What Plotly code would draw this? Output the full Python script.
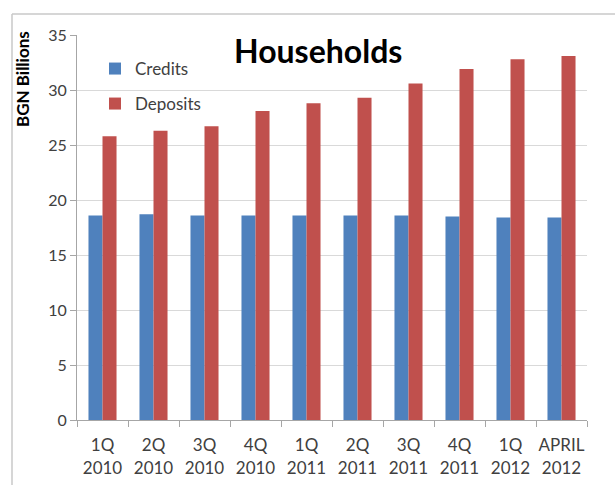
import plotly.graph_objects as go

categories = ["1Q<br>2010", "2Q<br>2010", "3Q<br>2010", "4Q<br>2010", "1Q<br>2011",
              "2Q<br>2011", "3Q<br>2011", "4Q<br>2011", "1Q<br>2012", "APRIL<br>2012"]
credits = [18.6, 18.7, 18.6, 18.6, 18.6, 18.6, 18.6, 18.5, 18.4, 18.4]
deposits = [25.8, 26.3, 26.7, 28.1, 28.8, 29.3, 30.6, 31.9, 32.8, 33.1]
y_ticks = [0, 5, 10, 15, 20, 25, 30, 35]

FONT = "Lato"
W, H = 615, 485
L, R, T, B = 77, 28, 35, 65
pw, ph = W - L - R, H - T - B

def px2x(px):
    return (px - L) / pw

def py2y(py):
    return (H - B - py) / ph

fig = go.Figure()
fig.add_trace(go.Bar(x=categories, y=credits, name="Credits", showlegend=True,
                     marker=dict(color="#4F81BD", line=dict(width=0)), legend="legend"))
fig.add_trace(go.Bar(x=categories, y=deposits, name="Deposits", showlegend=True,
                     marker=dict(color="#C0504D", line=dict(width=0)), legend="legend2"))

fig.update_layout(
    width=W, height=H,
    showlegend=True,
    margin=dict(l=L, r=R, t=T, b=B, autoexpand=False),
    paper_bgcolor="white", plot_bgcolor="white",
    barmode="group", bargap=0.45, bargroupgap=0,
    font=dict(family=FONT, size=15, color="#404040"),
    legend=dict(x=px2x(95), y=py2y(69), xanchor="left", yanchor="middle",
                font=dict(family=FONT, size=17, color="#404040"),
                bgcolor="rgba(0,0,0,0)", itemwidth=30),
    legend2=dict(x=px2x(95), y=py2y(104), xanchor="left", yanchor="middle",
                 font=dict(family=FONT, size=17, color="#404040"),
                 bgcolor="rgba(0,0,0,0)", itemwidth=30),
    xaxis=dict(type="category", showgrid=False, showline=True, linecolor="#a6a6a6",
               linewidth=1, ticks="outside", tickson="boundaries", ticklen=6,
               ticklabelstandoff=10, tickangle=0, automargin=False,
               tickcolor="#a6a6a6", tickfont=dict(family=FONT, size=17, color="#404040")),
    yaxis=dict(range=[0, 35], tickvals=y_ticks, showgrid=True, gridcolor="#d9d9d9",
               gridwidth=1, showline=True, linecolor="#a6a6a6", linewidth=1,
               ticks="outside", ticklen=6, tickcolor="#a6a6a6", zeroline=False,
               automargin=False,
               tickfont=dict(family=FONT, size=16, color="#404040")),
    annotations=[
        dict(text="<b>Households</b>", x=px2x(318), y=py2y(50), xref="paper", yref="paper",
             showarrow=False, font=dict(family=FONT, size=32, color="black"),
             xanchor="center", yanchor="middle"),
        dict(text="<b>BGN Billions</b>", x=px2x(22), y=py2y(79), xref="paper", yref="paper",
             showarrow=False, textangle=-90, font=dict(family=FONT, size=17, color="black"),
             xanchor="center", yanchor="middle"),
    ],
    shapes=[
        dict(type="line", xref="paper", yref="paper", x0=px2x(12), x1=px2x(12),
             y0=py2y(14), y1=py2y(490), line=dict(color="#c8c8c8", width=1.5)),
        dict(type="line", xref="paper", yref="paper", x0=px2x(12), x1=px2x(620),
             y0=py2y(14), y1=py2y(14), line=dict(color="#c8c8c8", width=1.5)),
    ],
)

fig.write_html("out.html", config={"displayModeBar": False},
               post_script="document.body.style.margin='0';")
